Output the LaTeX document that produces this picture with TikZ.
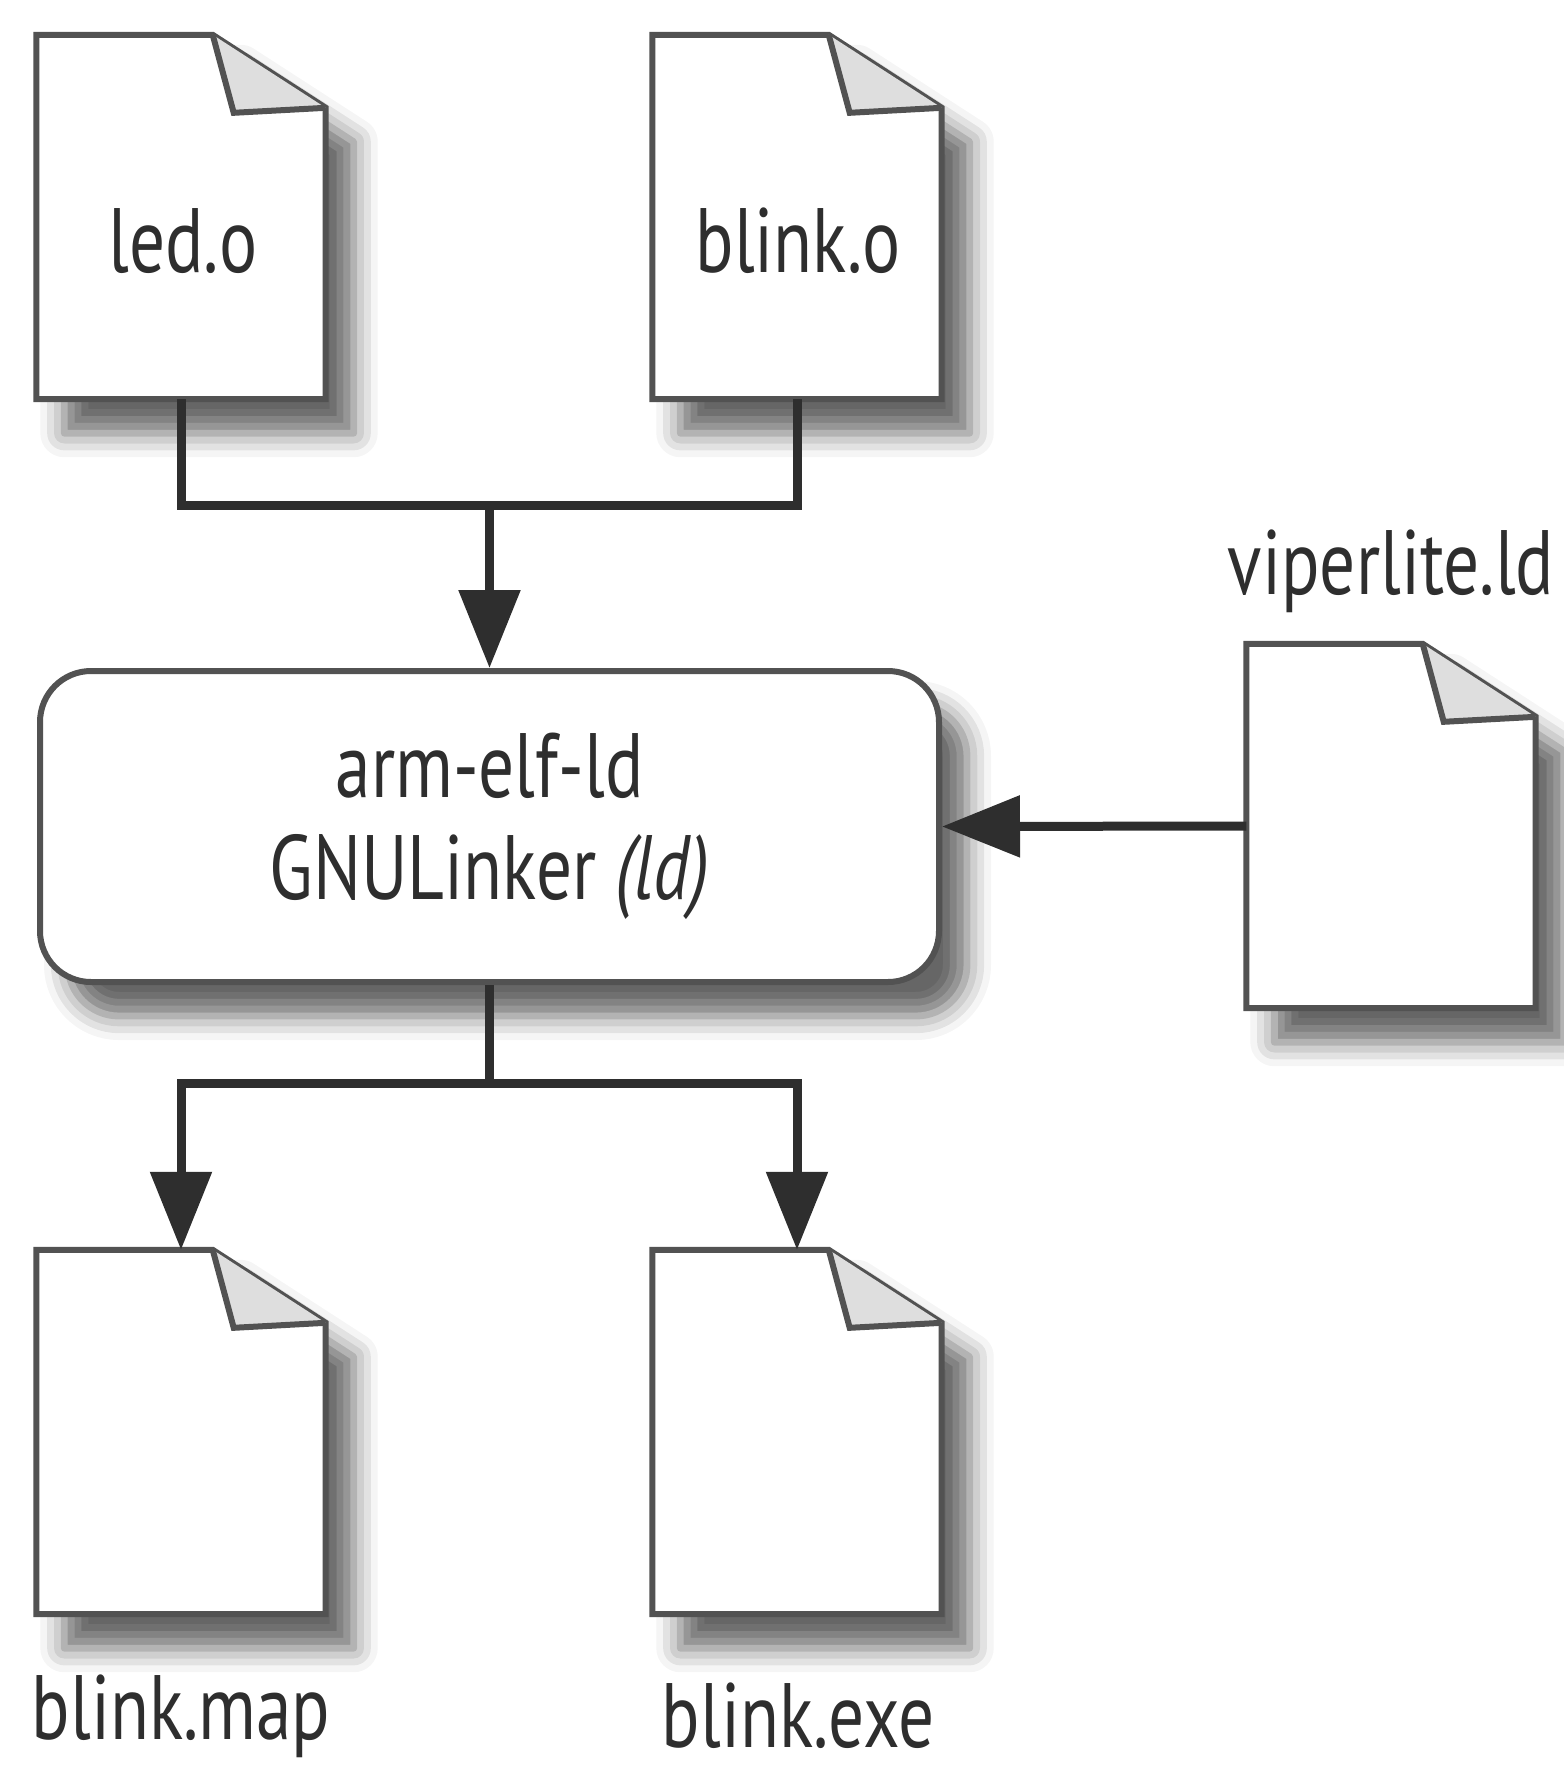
\documentclass[tikz,border=0pt]{standalone}
\usepackage{fontspec}
\setmainfont{PT Sans}[FakeStretch=0.78]
\usepackage{xcolor}
\usetikzlibrary{arrows.meta}
\usetikzlibrary{shadows.blur}
\definecolor{inkgray}{gray}{0.18}
\definecolor{edgegray}{gray}{0.32}
\definecolor{foldgray}{gray}{0.87}

\tikzset{
  docnode/.style={rectangle, minimum width=28.8mm, minimum height=36.3mm, inner sep=0pt},
  docline/.style={draw=edgegray, line width=0.6mm, line join=miter},
  doctext/.style={text=inkgray, font=\fontsize{26}{29}\selectfont},
  softshadow/.style={blur shadow={shadow xshift=2.8mm, shadow yshift=-3.4mm, shadow blur radius=2.4mm, shadow opacity=60}},
  conn/.style={draw=inkgray, line width=0.9mm},
  bigtip/.style={-{Triangle[length=7.8mm,width=6mm]}},
  linkbox/.style={draw=edgegray, line width=0.6mm, fill=white, rounded corners=5.1mm,
    minimum width=89.9mm, minimum height=31.1mm, align=center, softshadow,
    text=inkgray, font=\fontsize{26}{29}\selectfont},
}
% page outline with dog-ear, drawn round a named docnode
\newcommand{\docpage}[1]{%
  \path[fill=white, softshadow] (#1.north west) -- ([xshift=-11.3mm]#1.north east)
    -- ([yshift=-7.3mm]#1.north east) -- (#1.south east) -- (#1.south west) -- cycle;
  \draw[docline] (#1.north west) -- ([xshift=-11.3mm]#1.north east)
    -- ([yshift=-7.3mm]#1.north east) -- (#1.south east) -- (#1.south west) -- cycle;
  \draw[docline, fill=foldgray] ([xshift=-11.3mm]#1.north east)
    -- ([xshift=-9.2mm,yshift=-7.8mm]#1.north east) -- ([yshift=-7.3mm]#1.north east);
}

\begin{document}
\begin{tikzpicture}[x=0.1mm,y=-0.1mm]
  \useasboundingbox (0,0) rectangle (1564,1773);

  % input objects
  \node[docnode] (led) at (181,217) {};
  \node[docnode] (blinko) at (797,217) {};
  \docpage{led}
  \docpage{blinko}
  \node[doctext] (ledtxt) at (183,241) {led.o};
  \node[doctext] (blinkotxt) at (798,241) {blink.o};

  % linker script
  \node[docnode] (viper) at (1391,826) {};
  \docpage{viper}
  \node[doctext] (vipertxt) at (1391,571) {viperlite.ld};

  % the linker
  \node[linkbox] (linker) at (489.5,826.5) {arm-elf-ld\\GNULinker \textit{(ld)}};

  % outputs
  \node[docnode] (map) at (181,1432) {};
  \node[docnode] (exe) at (797,1432) {};
  \docpage{map}
  \docpage{exe}
  \node[doctext] (maptxt) at (181,1716) {blink.map};
  \node[doctext] (exetxt) at (798,1716) {blink.exe};

  \coordinate (merge) at (489.5,505);
  \coordinate (split) at (489.5,1083);

  \draw[conn] (led.south) |- (merge) -| (blinko.south);
  \draw[conn,bigtip] (merge) -- (linker.north);
  \draw[conn,bigtip] (viper.west) -- (linker.east);
  \draw[conn] (linker.south) -- (split);
  \draw[conn,bigtip] (split) -| (map.north);
  \draw[conn,bigtip] (split) -| (exe.north);
\end{tikzpicture}
\end{document}
